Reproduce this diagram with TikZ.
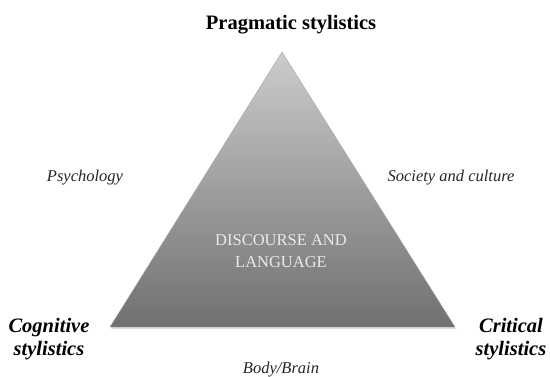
\documentclass[tikz,border=0pt]{standalone}
\usepackage{fontspec}
\setmainfont{Liberation Serif}
\usetikzlibrary{shadings}
\definecolor{toptone}{HTML}{CCCCCC}
\definecolor{basetone}{HTML}{707070}
\tikzset{
  cornerlabel/.style={font=\bfseries\itshape\fontsize{20.5}{23}\selectfont, align=center},
  sidelabel/.style={font=\itshape\fontsize{16.5}{19}\selectfont, text=black!85},
  corelabel/.style={font=\fontsize{16.5}{22}\selectfont, text=white!92!black, align=center}
}
\begin{document}
\begin{tikzpicture}[x=1pt,y=-1pt]
\useasboundingbox (0,0) rectangle (550,376);

% triangle with soft shadow
\fill[black!25, opacity=0.5] (111,329) -- (283,54) -- (456,329) -- cycle;
\shade[top color=toptone, bottom color=basetone, draw=gray!70, line width=0.4pt]
  (110,327) -- (282,52) -- (455,327) -- cycle;

% apex and corners
\node[font=\bfseries\fontsize{20.5}{23}\selectfont] at (291,25) (pragmatic) {Pragmatic stylistics};
\node[cornerlabel] at (49,339) (cognitive) {Cognitive\\stylistics};
\node[cornerlabel] at (511,339) (critical) {Critical\\stylistics};

% sides
\node[sidelabel] at (85,178) (psychology) {Psychology};
\node[sidelabel] at (451,178) (society) {Society and culture};
\node[sidelabel] at (281,370) (body) {Body/Brain};

% centre
\node[corelabel] at (281,251) (discourse) {DISCOURSE AND\\LANGUAGE};

\end{tikzpicture}
\end{document}
